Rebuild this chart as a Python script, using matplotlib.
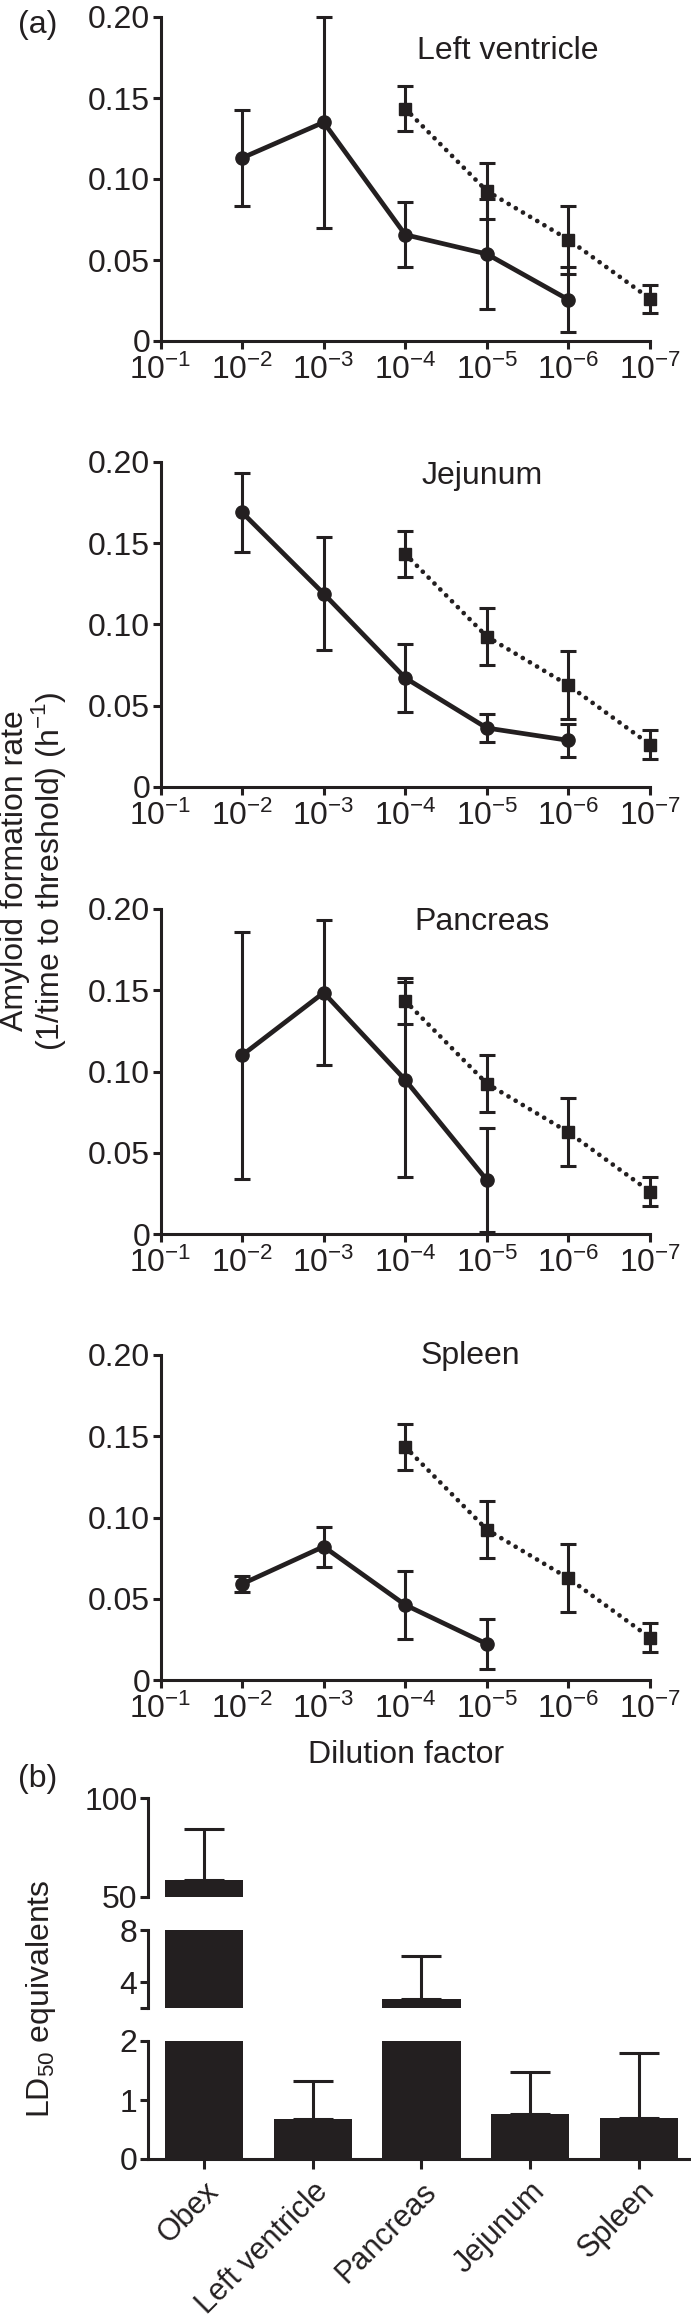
import numpy as np
import matplotlib.pyplot as plt
from matplotlib.ticker import LogLocator, NullFormatter

plt.rcParams['font.family'] = ['Liberation Sans', 'DejaVu Sans']
plt.rcParams['mathtext.fontset'] = 'custom'
plt.rcParams['mathtext.rm'] = 'Liberation Sans'
plt.rcParams['font.size'] = 23
plt.rcParams['text.color'] = '#231f20'
plt.rcParams['axes.edgecolor'] = '#231f20'
plt.rcParams['xtick.color'] = '#231f20'
plt.rcParams['ytick.color'] = '#231f20'

# ---- data, panel (a) ----
dilution = [1e-2, 1e-3, 1e-4, 1e-5, 1e-6]
ref_dilution = [1e-4, 1e-5, 1e-6, 1e-7]
ref_rate = [0.1434, 0.0926, 0.0626, 0.0261]
ref_err = [0.014, 0.0175, 0.021, 0.0087]

lv_rate = [0.113, 0.135, 0.0656, 0.0537, 0.0255]
lv_err = [0.0295, 0.065, 0.020, 0.034, 0.020]
jej_rate = [0.169, 0.119, 0.0671, 0.0363, 0.0287]
jej_err = [0.0245, 0.035, 0.021, 0.0084, 0.010]
pan_rate = [0.110, 0.1485, 0.0948, 0.0332]
pan_err = [0.076, 0.0446, 0.060, 0.032]
spl_rate = [0.0591, 0.0821, 0.0462, 0.0222]
spl_err = [0.0047, 0.0123, 0.021, 0.0156]

panel_titles = ['Left ventricle', 'Jejunum', 'Pancreas', 'Spleen']
xtick_vals = [1e-1, 1e-2, 1e-3, 1e-4, 1e-5, 1e-6, 1e-7]
xtick_labels = [r'$\mathregular{10^{-%d}}$' % i for i in range(1, 8)]
ytick_vals = [0, 0.05, 0.10, 0.15, 0.20]
ytick_labels = ['0', '0.05', '0.10', '0.15', '0.20']

# ---- data, panel (b) ----
tissues = ['Obex', 'Left ventricle', 'Pancreas', 'Jejunum', 'Spleen']
ld50 = [58.5, 0.68, 2.73, 0.76, 0.70]
ld50_err = [26.0, 0.65, 3.3, 0.72, 1.09]

W, H = 691, 2324
fig = plt.figure(figsize=(W / 100, H / 100), dpi=100)
black = '#231f20'


def box(x0, y0, x1, y1):
    return [x0 / W, 1 - y1 / H, (x1 - x0) / W, (y1 - y0) / H]


def ftext(x, y, s, **kw):
    fig.text(x / W, 1 - y / H, s, **kw)


# panel (a): four line plots
rows = [(17, 341), (462, 787), (909, 1234), (1355, 1680)]
series = [(dilution, lv_rate, lv_err), (dilution, jej_rate, jej_err),
          (dilution[:4], pan_rate, pan_err), (dilution[:4], spl_rate, spl_err)]
title_pos = [(508, 59), (482, 484), (482, 930), (470, 1364)]

for i in range(4):
    ax = fig.add_axes(box(160.5, rows[i][0], 650, rows[i][1]))
    x, y, e = series[i]
    # reference series (dotted, squares)
    ax.plot(ref_dilution, ref_rate, color=black, lw=3.4, ls=(0, (0.01, 1.75)),
            dash_capstyle='round', zorder=2)
    ax.errorbar(ref_dilution, ref_rate, yerr=ref_err, fmt='s', color=black, ms=9,
                elinewidth=2.2, capsize=6, capthick=2.2, zorder=3, clip_on=False)
    # tissue series (solid, circles)
    ax.errorbar(x, y, yerr=e, fmt='-o', color=black, lw=3.4, ms=9.5,
                elinewidth=2.2, capsize=6, capthick=2.2, zorder=4, clip_on=False)

    ax.set_xscale('log')
    ax.set_xlim(1e-1, 1e-7)
    ax.set_ylim(0, 0.20)
    ax.set_xticks(xtick_vals)
    ax.set_xticklabels(xtick_labels)
    ax.xaxis.set_minor_locator(LogLocator(base=10, subs=np.arange(2, 10)))
    ax.xaxis.set_minor_formatter(NullFormatter())
    ax.set_yticks(ytick_vals)
    ax.set_yticklabels(ytick_labels)
    for s in ['top', 'right']:
        ax.spines[s].set_visible(False)
    for s in ['left', 'bottom']:
        ax.spines[s].set_linewidth(2.2)
    ax.tick_params(which='major', length=6, width=2.2, direction='out')
    ax.tick_params(axis='y', pad=1.5)
    ax.tick_params(axis='x', pad=4)
    ax.tick_params(which='minor', length=3.5, width=2.0, direction='out')
    ax.patch.set_alpha(0)
    ftext(title_pos[i][0], title_pos[i][1], panel_titles[i], ha='center', va='baseline')

ftext(406, 1763, 'Dilution factor', ha='center', va='baseline')
ftext(34, 871, 'Amyloid formation rate\n(1/time to threshold) (h$^{\\mathregular{-1}}$)',
      rotation=90, ha='center', va='center', multialignment='center', linespacing=0.95)
ftext(18, 10, '(a)', ha='left', va='top')

# panel (b): bar chart with broken y axis
xpos = np.arange(len(tissues))
segments = [((148, 2041, 691, 2159), (0, 2), [0, 1, 2], ['0', '1', '2']),
            ((148, 1930, 691, 2008), (2, 8), [2, 4, 8], ['', '4', '8']),
            ((148, 1798, 691, 1897), (50, 100), [50, 100], ['50', '100'])]
for j, (b, lim, ticks, labels) in enumerate(segments):
    ax = fig.add_axes(box(*b))
    ax.bar(xpos, ld50, width=0.72, color=black, zorder=2)
    ax.errorbar(xpos, ld50, yerr=[np.zeros(len(ld50)), ld50_err], fmt='none',
                ecolor=black, elinewidth=2.2, capsize=14.5, capthick=2.2, zorder=1)
    ax.set_xlim(-0.515, 4.48)
    ax.set_ylim(*lim)
    ax.set_yticks(ticks)
    ax.set_yticklabels(labels)
    ax.spines['top'].set_visible(False)
    ax.spines['right'].set_visible(False)
    ax.spines['left'].set_linewidth(2.2)
    ax.spines['bottom'].set_linewidth(2.2)
    ax.tick_params(axis='y', length=6, width=2.2, pad=1.5)
    ax.patch.set_alpha(0)
    if j == 0:
        ax.set_xticks(xpos)
        ax.set_xticklabels(tissues, rotation=45, ha='right', va='top',
                           rotation_mode='anchor', fontsize=22)
        ax.tick_params(axis='x', length=7.5, width=2.2, pad=5)
    else:
        ax.spines['bottom'].set_visible(False)
        ax.set_xticks([])

ftext(41, 1999, 'LD$_{\\mathregular{50}}$ equivalents', rotation=90,
      ha='center', va='center')
ftext(18, 1764, '(b)', ha='left', va='top')

fig.savefig('out.png', dpi=100)
